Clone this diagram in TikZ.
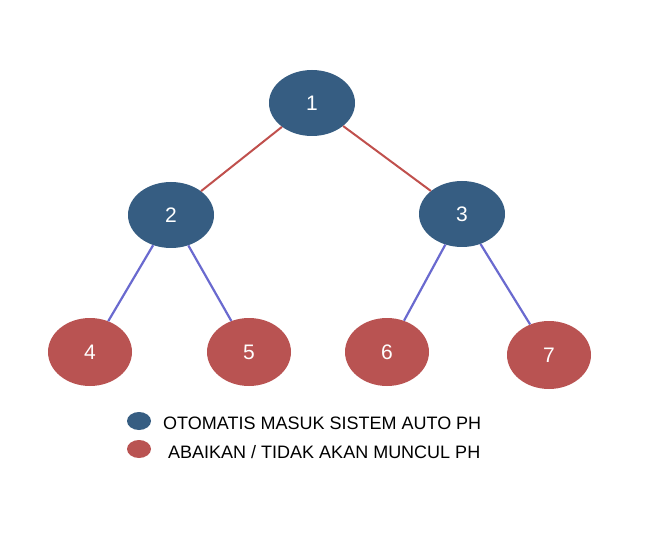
\documentclass[tikz,border=0pt]{standalone}
\usepackage{fontspec}
\setmainfont{Liberation Sans}
\usetikzlibrary{shapes.geometric}
\definecolor{nblue}{HTML}{365D82}
\definecolor{nred}{HTML}{B95352}
\definecolor{ered}{HTML}{C0504D}
\definecolor{eblue}{HTML}{6A6ACF}
\begin{document}
\begin{tikzpicture}[x=1pt,y=-1pt,
 bn/.style={ellipse,fill=nblue,minimum width=86pt,minimum height=66pt,inner sep=0pt,text=white,font=\fontsize{21}{21}\selectfont},
 rn/.style={ellipse,fill=nred,minimum width=84pt,minimum height=68pt,inner sep=0pt,text=white,font=\fontsize{21}{21}\selectfont},
 re/.style={draw=ered,line width=2pt},
 be/.style={draw=eblue,line width=2.2pt},
 lg/.style={ellipse,minimum width=24pt,minimum height=18pt,inner sep=0pt},
 lt/.style={anchor=west,inner sep=0pt,font=\fontsize{18}{19}\selectfont,text=black}]
\useasboundingbox (0,0) rectangle (654,559);
\node[bn] (n1) at (312,103) {1};
\node[bn] (n2) at (171,215) {2};
\node[bn] (n3) at (462,214) {3};
\node[rn] (n4) at (90,352) {4};
\node[rn] (n5) at (249,352) {5};
\node[rn] (n6) at (387,352) {6};
\node[rn] (n7) at (549,355) {7};
\draw[re] (n1) -- (n2);
\draw[re] (n1) -- (n3);
\draw[be] (n2) -- (n4);
\draw[be] (n2) -- (n5);
\draw[be] (n3) -- (n6);
\draw[be] (n3) -- (n7);
\node[lg,fill=nblue] (l1) at (139,421) {};
\node[lg,fill=nred] (l2) at (139,449) {};
\node[lt] (t1) at (163,423) {OTOMATIS MASUK SISTEM AUTO PH};
\node[lt] (t2) at (168,452) {ABAIKAN / TIDAK AKAN MUNCUL PH};
\end{tikzpicture}
\end{document}
